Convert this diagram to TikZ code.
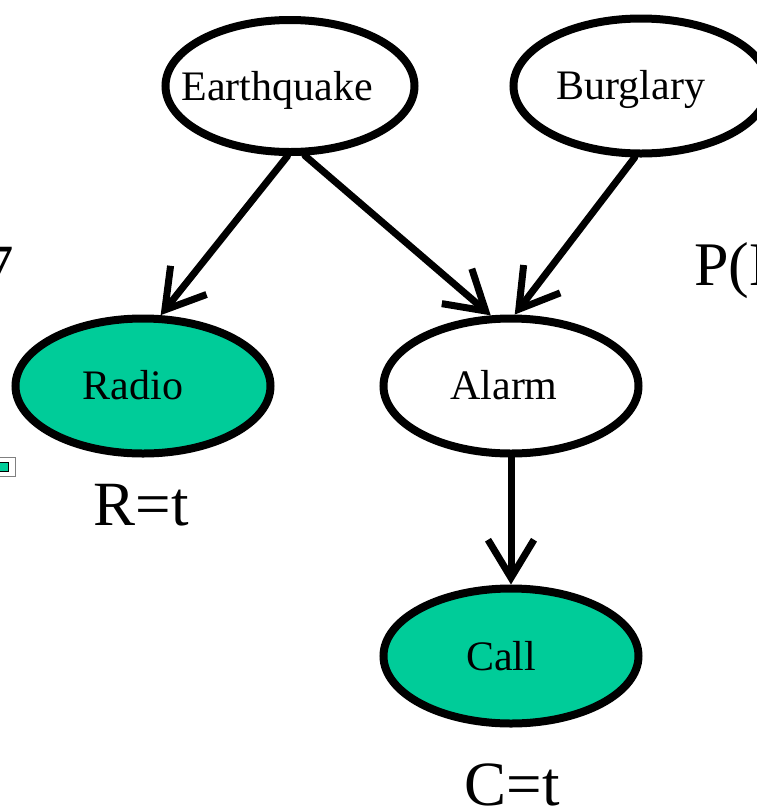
\documentclass[tikz,border=0pt]{standalone}
\usepackage{fontspec}
\setmainfont{Liberation Serif}
\usetikzlibrary{arrows.meta,shapes.geometric}
\definecolor{obsgreen}{RGB}{0,204,153}
\tikzset{
  ell/.style={ellipse,draw=black,line width=8pt,inner sep=0pt,minimum width=255pt,minimum height=135pt,fill=white},
  obs/.style={ell,fill=obsgreen},
  nlbl/.style={anchor=base,inner sep=0pt,font=\fontsize{42}{48}\selectfont},
  big/.style={anchor=base,inner sep=0pt,font=\fontsize{63}{70}\selectfont},
  edge/.style={line width=7pt,line cap=round,-{Straight Barb[length=38pt,width=46pt,line width=7pt]}}
}
\begin{document}
\begin{tikzpicture}[x=1pt,y=-1pt]
\useasboundingbox (0,0) rectangle (757,807);
% nodes
\node[ell,minimum width=249pt,minimum height=132pt] (eq) at (290,86) {};
\node[ell] (bu) at (641,86) {};
\node[obs] (ra) at (143,386) {};
\node[ell] (al) at (511,386) {};
\node[obs] (ca) at (511,656) {};
% labels
\node[nlbl] (eqt) at (277,100) {Earthquake};
\node[nlbl] (but) at (631,99) {Burglary};
\node[nlbl] (rat) at (133,399) {Radio};
\node[nlbl] (alt) at (504,399) {Alarm};
\node[nlbl] (cat) at (501,670) {Call};
\node[big] (rt) at (141.5,525) {R=t};
\node[big] (ct) at (512.5,805) {C=t};
% cut-off texts at the edges
\node[big,anchor=base east] (seven) at (14,288) {7};
\node[big,anchor=base west,font=\fontsize{62}{70}\selectfont] (pb) at (694,285) {P(B};
% partial legend box
\draw[gray,line width=0.8pt] (-10,457.5) rectangle (15.5,476.5);
\draw[black,line width=0.8pt,fill=obsgreen] (-5,462) rectangle (8,471.5);
% edges
\draw[edge] (eq.-92) -- (ra.76);
\draw[edge] (eq.-78) -- (al.106);
\draw[edge] (bu.-95) -- (al.87);
\draw[edge] (al.south) -- (ca.north);
\end{tikzpicture}
\end{document}
